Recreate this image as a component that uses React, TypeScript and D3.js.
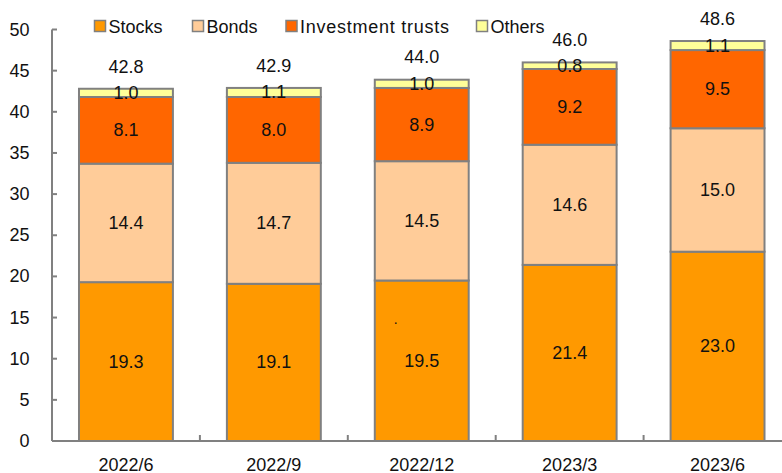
import React from "react";
import * as d3 from "d3";

const categories = ["2022/6", "2022/9", "2022/12", "2023/3", "2023/6"];
const seriesNames = ["Stocks", "Bonds", "Investment trusts", "Others"];
const stocks = [19.3, 19.1, 19.5, 21.4, 23.0];
const bonds = [14.4, 14.7, 14.5, 14.6, 15.0];
const investmentTrusts = [8.1, 8.0, 8.9, 9.2, 9.5];
const others = [1.0, 1.1, 1.0, 0.8, 1.1];
const totals = [42.8, 42.9, 44.0, 46.0, 48.6];
const yTicks = [0, 5, 10, 15, 20, 25, 30, 35, 40, 45, 50];

const colors = ["#FF9900", "#FFCC99", "#FF6600", "#FFFF99"];
const FONT = "'Liberation Sans', Arial, sans-serif";
const AXIS = "#808080";

export default function App() {
  const W = 782, H = 473;
  const left = 52;
  const step = 147.9;
  const x = d3
    .scaleBand<string>()
    .domain(categories)
    .range([left, left + step * categories.length])
    .paddingInner(0.365)
    .paddingOuter(0.1825);
  const y = d3.scaleLinear().domain([0, 50]).range([441, 29.5]);

  const seriesData = [stocks, bonds, investmentTrusts, others];
  const rows = categories.map((c, i) => {
    const o: any = { cat: c };
    seriesNames.forEach((s, k) => (o[s] = seriesData[k][i]));
    return o;
  });
  const stacked = d3.stack<any>().keys(seriesNames)(rows);

  const legendX = [94.5, 192.5, 286, 476.5];

  return (
    <svg
      width={W}
      height={H}
      style={{ position: "absolute", left: 0, top: 0, display: "block", background: "#fff" }}
      fontFamily={FONT}
    >
      {/* bars */}
      {stacked.map((layer, k) => (
        <g key={layer.key}>
          {layer.map((d, i) => {
            const x0 = x(categories[i])!;
            const bw = x.bandwidth();
            const yt = y(d[1]);
            const yb = y(d[0]);
            return (
              <g key={i}>
                <rect x={x0} y={yt} width={bw} height={yb - yt} fill={colors[k]} stroke={AXIS} strokeWidth={2} />
                <text
                  x={x0 + bw / 2}
                  y={(yt + yb) / 2}
                  textAnchor="middle"
                  dominantBaseline="central"
                  fontSize={18}
                  fill="#111"
                >
                  {seriesData[k][i].toFixed(1)}
                </text>
              </g>
            );
          })}
        </g>
      ))}
      {/* totals */}
      {categories.map((c, i) => (
        <text
          key={c}
          x={x(c)! + x.bandwidth() / 2}
          y={y(totals[i]) - 22}
          textAnchor="middle"
          dominantBaseline="central"
          fontSize={18}
          fill="#111"
        >
          {totals[i].toFixed(1)}
        </text>
      ))}
      {/* stray dot */}
      <text x={x(categories[2])! + 19} y={y(14.2)} fontSize={14} fill="#111">.</text>

      {/* y axis */}
      <line x1={left} x2={left} y1={y(50)} y2={y(0)} stroke={AXIS} strokeWidth={2} />
      {yTicks.map((t) => (
        <g key={t}>
          <line x1={left} x2={left + 5} y1={y(t)} y2={y(t)} stroke={AXIS} strokeWidth={2} />
          <text
            x={29.5}
            y={y(t)}
            textAnchor="end"
            dominantBaseline="central"
            fontSize={18}
            fill="#111"
          >
            {t}
          </text>
        </g>
      ))}
      {/* x axis */}
      <line x1={left} x2={W} y1={y(0)} y2={y(0)} stroke={AXIS} strokeWidth={2} />
      {categories.map((c, i) =>
        i > 0 ? (
          <line
            key={c}
            x1={x(c)! - (x.step() - x.bandwidth()) / 2}
            x2={x(c)! - (x.step() - x.bandwidth()) / 2}
            y1={y(0)}
            y2={y(0) - 6}
            stroke={AXIS}
            strokeWidth={2}
          />
        ) : null
      )}
      {categories.map((c) => (
        <text
          key={c}
          x={x(c)! + x.bandwidth() / 2}
          y={470.5}
          textAnchor="middle"
          fontSize={18}
          fill="#111"
        >
          {c}
        </text>
      ))}

      {/* legend */}
      {seriesNames.map((s, k) => (
        <g key={s}>
          <rect x={legendX[k]} y={20.5} width={11} height={11} fill={colors[k]} stroke={AXIS} strokeWidth={1.5} />
          <text
            x={legendX[k] + 14}
            y={32.5}
            fontSize={18}
            letterSpacing={s.length > 10 ? 0.75 : 0}
            fill="#111"
          >
            {s}
          </text>
        </g>
      ))}
    </svg>
  );
}
